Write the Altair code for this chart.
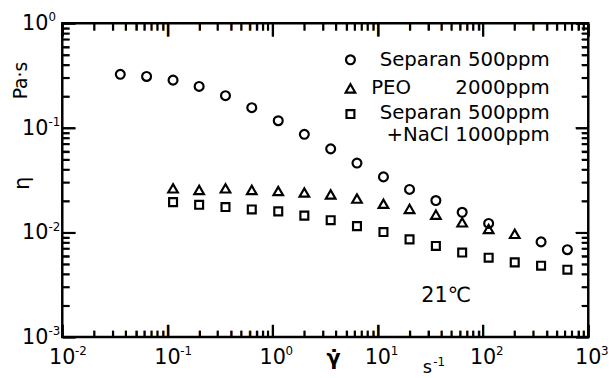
import altair as alt
import pandas as pd

# ---- data ----
sep_x = [0.0356, 0.0633, 0.113, 0.200, 0.356, 0.633, 1.13, 2.00, 3.56, 6.33, 11.3, 20.0, 35.6, 63.3, 113.0, 356.0, 633.0]
sep_y = [0.325, 0.310, 0.286, 0.249, 0.203, 0.156, 0.117, 0.0868, 0.0630, 0.0461, 0.0340, 0.0258, 0.0202, 0.0156, 0.0122, 0.00813, 0.00684]

peo_x = [0.113, 0.200, 0.356, 0.633, 1.13, 2.00, 3.56, 6.33, 11.3, 20.0, 35.6, 63.3, 113.0, 200.0]
peo_y = [0.0264, 0.0255, 0.0264, 0.0255, 0.0249, 0.0241, 0.0231, 0.0211, 0.0188, 0.0168, 0.0148, 0.0125, 0.0108, 0.0097]

nacl_x = [0.113, 0.200, 0.356, 0.633, 1.13, 2.00, 3.56, 6.33, 11.3, 20.0, 35.6, 63.3, 113.0, 200.0, 356.0, 633.0]
nacl_y = [0.0195, 0.0184, 0.0175, 0.0166, 0.0159, 0.0145, 0.0131, 0.0115, 0.0101, 0.00859, 0.00743, 0.00643, 0.00574, 0.00518, 0.00481, 0.00441]

x_decades = [0.01, 0.1, 1, 10, 100, 1000]
x_exps = ["-2", "-1", "0", "1", "2", "3"]
y_decades = [0.001, 0.01, 0.1, 1]
y_exps = ["-3", "-2", "-1", "0"]

legend_labels = ["Separan 500ppm", "2000ppm", "Separan 500ppm", "+NaCl 1000ppm"]

W, H = 533, 318
FONT = "DejaVu Sans"

xs = alt.Scale(type="log", domain=[0.01, 1000])
ys = alt.Scale(type="log", domain=[0.001, 1])

x_minor = [k * d for d in [0.01, 0.1, 1, 10, 100] for k in range(2, 10)]
y_minor = [k * d for d in [0.001, 0.01, 0.1] for k in range(2, 10)]

MINOR, MAJOR = 7, 13


def tick_axis(orient, values, length):
    return alt.Axis(orient=orient, values=values, tickSize=length, offset=-length,
                    tickWidth=2.2, tickColor="black", ticks=True, domain=False,
                    labels=False, grid=False, title=None)


sep_df = pd.DataFrame({"x": sep_x, "y": sep_y})


def pts(xv, yv, shape, size):
    df = pd.DataFrame({"x": xv, "y": yv})
    return alt.Chart(df).mark_point(shape=shape, filled=False, stroke="black",
                                    strokeWidth=2.2, size=size, opacity=1).encode(
        x=alt.X("x:Q", scale=xs, axis=None),
        y=alt.Y("y:Q", scale=ys, axis=None))


def glyph_ticks_x(vals, L):
    df = pd.DataFrame({"v": vals})
    out = []
    for yy in (H - L / 2, L / 2):
        out.append(alt.Chart(df).mark_text(text="|", font=FONT, fontWeight="bold", fontSize=L,
                                           align="center", baseline="middle", color="black").encode(
            x=alt.X("v:Q", scale=xs, axis=None), y=alt.value(yy)))
    return out


def glyph_ticks_y(vals, L):
    df = pd.DataFrame({"v": vals})
    out = []
    for xx in (L / 2, W - L / 2):
        out.append(alt.Chart(df).mark_text(text="|", font=FONT, fontWeight="bold", fontSize=L, angle=90,
                                           align="center", baseline="middle", color="black").encode(
            y=alt.Y("v:Q", scale=ys, axis=None), x=alt.value(xx)))
    return out


layers = []
# carrier layers, each holding one x axis and one y axis of inward ticks
for xo, yo, xv, yv, L in [("bottom", "left", x_minor, y_minor, MINOR),
                          ("bottom", "left", x_decades, y_decades, MAJOR),
                          ("top", "right", x_minor, y_minor, MINOR),
                          ("top", "right", x_decades, y_decades, MAJOR)]:
    layers.append(alt.Chart(sep_df).mark_point(opacity=0).encode(
        x=alt.X("x:Q", scale=xs, axis=tick_axis(xo, xv, L)),
        y=alt.Y("y:Q", scale=ys, axis=tick_axis(yo, yv, L))))

layers += glyph_ticks_x(x_minor, MINOR) + glyph_ticks_x(x_decades, MAJOR)
layers += glyph_ticks_y(y_minor, MINOR) + glyph_ticks_y(y_decades, MAJOR)

layers.append(pts(sep_x, sep_y, "circle", 81))
layers.append(pts(peo_x, peo_y, "triangle-up", 95))
layers.append(pts(nacl_x, nacl_y, "square", 64))

# tick labels
xl = pd.DataFrame({"v": x_decades, "e": x_exps})
layers.append(alt.Chart(xl).mark_text(font=FONT, fontSize=21, align="center", baseline="middle").encode(
    x=alt.X("v:Q", scale=xs, axis=None), y=alt.value(H + 21), text=alt.value("10")))
layers.append(alt.Chart(xl).mark_text(font=FONT, fontSize=12, align="left", baseline="middle", dx=13).encode(
    x=alt.X("v:Q", scale=xs, axis=None), y=alt.value(H + 14), text="e:N"))

yl = pd.DataFrame({"v": y_decades, "e": y_exps})
layers.append(alt.Chart(yl).mark_text(font=FONT, fontSize=21, align="right", baseline="middle", dy=1).encode(
    y=alt.Y("v:Q", scale=ys, axis=None), x=alt.value(-14), text=alt.value("10")))
layers.append(alt.Chart(yl).mark_text(font=FONT, fontSize=12, align="left", baseline="middle", dy=-6).encode(
    y=alt.Y("v:Q", scale=ys, axis=None), x=alt.value(-14), text="e:N"))

# axis titles
layers.append(alt.Chart(pd.DataFrame({"t": ["η"]})).mark_text(font=FONT, fontSize=21, angle=270).encode(
    x=alt.value(-40), y=alt.value(162), text="t:N"))
layers.append(alt.Chart(pd.DataFrame({"t": ["Pa·s"]})).mark_text(font=FONT, fontSize=19, angle=270).encode(
    x=alt.value(-42), y=alt.value(58), text="t:N"))
layers.append(alt.Chart(pd.DataFrame({"t": ["γ̇"]})).mark_text(font=FONT, fontSize=21, fontWeight="bold").encode(
    x=alt.value(275), y=alt.value(H + 22), text="t:N"))
layers.append(alt.Chart(pd.DataFrame({"t": ["s"]})).mark_text(font=FONT, fontSize=18).encode(
    x=alt.value(370), y=alt.value(H + 31), text="t:N"))
layers.append(alt.Chart(pd.DataFrame({"t": ["-1"]})).mark_text(font=FONT, fontSize=12, align="left").encode(
    x=alt.value(376), y=alt.value(H + 25), text="t:N"))

# temperature annotation
layers.append(alt.Chart(pd.DataFrame({"t": ["21℃"]})).mark_text(font=FONT, fontSize=21).encode(
    x=alt.value(389), y=alt.value(276), text="t:N"))

# legend
for shape, yy, sz in [("circle", 37, 81), ("triangle-up", 66, 95), ("square", 92, 64)]:
    layers.append(alt.Chart(pd.DataFrame({"a": [0]})).mark_point(
        shape=shape, filled=False, stroke="black", strokeWidth=2.2, size=sz, opacity=1).encode(
        x=alt.value(292), y=alt.value(yy)))
lg_txt = pd.DataFrame({"t": legend_labels, "yy": [37, 66, 91, 113]})
layers.append(alt.Chart(lg_txt).mark_text(font=FONT, fontSize=20, align="right", baseline="middle").encode(
    x=alt.value(494), y=alt.Y("yy:Q", scale=None), text="t:N"))
layers.append(alt.Chart(pd.DataFrame({"t": ["PEO"]})).mark_text(font=FONT, fontSize=20, align="left", baseline="middle").encode(
    x=alt.value(313), y=alt.value(66), text="t:N"))

chart = alt.layer(*layers).resolve_axis(x="independent", y="independent").properties(
    width=W, height=H,
    autosize=alt.AutoSizeParams(type="none"),
    padding={"left": 55, "top": 13, "right": 20, "bottom": 39},
).configure_view(stroke="black", strokeWidth=2.5)

chart.save("out.html", embed_options={"renderer": "svg", "actions": False})
